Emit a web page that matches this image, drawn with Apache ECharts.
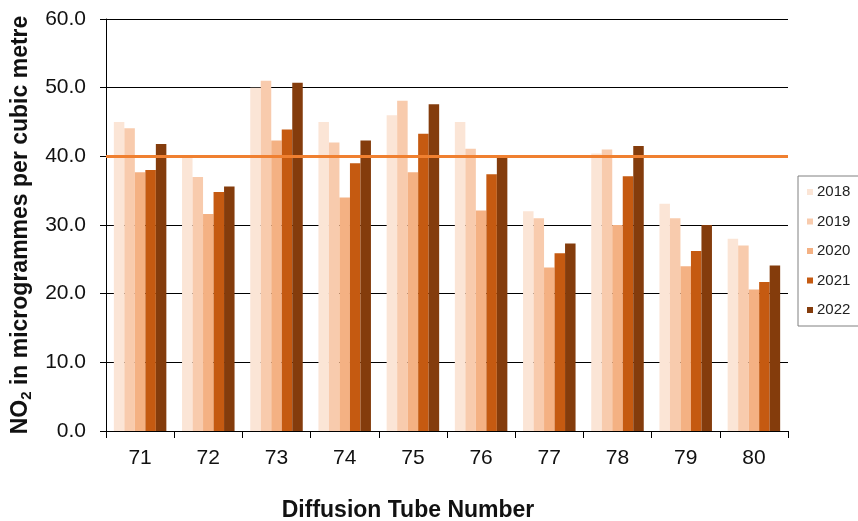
<!DOCTYPE html>
<html>
<head>
<meta charset="utf-8">
<script src="https://cdn.jsdelivr.net/npm/echarts@6/dist/echarts.min.js"></script>
<style>
  html, body { margin: 0; padding: 0; background: #fff; }
  #chart { width: 858px; height: 521px; }
</style>
</head>
<body>
<div id="chart"></div>
<script>
// Diffusion tube sites
const tubes = ['71', '72', '73', '74', '75', '76', '77', '78', '79', '80'];

// Annual mean NO2 (µg/m³) per tube, one array per year
const years = ['2018', '2019', '2020', '2021', '2022'];
const no2_2018 = [45.0, 40.0, 50.0, 45.0, 46.0, 45.0, 32.0, 40.4, 33.1, 28.0];
const no2_2019 = [44.1, 37.0, 51.0, 42.0, 48.1, 41.1, 31.0, 41.0, 31.0, 27.0];
const no2_2020 = [37.7, 31.6, 42.3, 34.0, 37.7, 32.1, 23.8, 30.0, 24.0, 20.6];
const no2_2021 = [38.0, 34.8, 43.9, 39.0, 43.3, 37.4, 25.9, 37.1, 26.2, 21.7];
const no2_2022 = [41.8, 35.6, 50.7, 42.3, 47.6, 40.0, 27.3, 41.5, 30.0, 24.1];

// Annual mean objective
const objective = 40;

const yearColours = ['#FBE5D6', '#F8CBAD', '#F4B183', '#C55A11', '#843C0C'];
const values = [no2_2018, no2_2019, no2_2020, no2_2021, no2_2022];

const font = '"Liberation Sans", Arial, sans-serif';

const series = years.map((y, i) => ({
  name: y,
  type: 'bar',
  data: values[i],
  barGap: '0%',
  barCategoryGap: '23%',
  itemStyle: { color: yearColours[i] },
  z: 2
}));

// Objective line drawn across the plot above the bars
series[0].markLine = {
  silent: true,
  symbol: 'none',
  label: { show: false },
  lineStyle: { color: '#F08030', width: 3, type: 'solid' },
  data: [{ yAxis: objective }],
  z: 5
};

const chart = echarts.init(document.getElementById('chart'), null, { renderer: 'canvas' });
chart.setOption({
  animation: false,
  backgroundColor: '#fff',
  grid: { left: 106, right: 70, top: 19, bottom: 90, containLabel: false, outerBoundsMode: 'none' },
  legend: {
    orient: 'vertical',
    left: 798,
    top: 176,
    padding: [8, 20, 8, 9],
    borderColor: '#808080',
    borderWidth: 1,
    itemWidth: 6,
    itemHeight: 6,
    itemGap: 13.5,
    itemStyle: { borderWidth: 0 },
    icon: 'rect',
    textStyle: { fontFamily: font, fontSize: 15, color: '#222', lineHeight: 16, padding: [0, 0, 0, -1] },
    data: years
  },
  xAxis: {
    type: 'category',
    data: tubes,
    name: 'Diffusion Tube Number',
    nameLocation: 'middle',
    nameGap: 68,
    nameTextStyle: {
      fontFamily: font, fontSize: 23, fontWeight: 'bold', color: '#111',
      padding: [0, 78, 0, 0]
    },
    axisLine: { lineStyle: { color: '#000', width: 1 } },
    axisTick: { show: true, length: 7, alignWithLabel: false, lineStyle: { color: '#000' } },
    axisLabel: { fontFamily: font, fontSize: 21, color: '#111', margin: 17 }
  },
  yAxis: {
    type: 'value',
    min: 0,
    max: 60,
    interval: 10,
    name: '{a|NO}{s|2}{a| in microgrammes per cubic metre}',
    nameLocation: 'middle',
    nameRotate: 90,
    nameGap: 72,
    nameTextStyle: {
      fontFamily: font, fontSize: 23, fontWeight: 'bold', color: '#111',
      rich: {
        a: { fontFamily: font, fontSize: 23, fontWeight: 'bold', color: '#111', lineHeight: 26 },
        s: { fontFamily: font, fontSize: 15, fontWeight: 'bold', color: '#111', lineHeight: 26, verticalAlign: 'bottom', padding: [8, 0, 0, 0] }
      }
    },
    axisLine: { show: true, lineStyle: { color: '#000', width: 1 } },
    axisTick: { show: true, length: 6, lineStyle: { color: '#000' } },
    axisLabel: {
      fontFamily: font, fontSize: 21, color: '#111', margin: 20,
      formatter: v => v.toFixed(1)
    },
    splitLine: { show: true, lineStyle: { color: '#000', width: 1 } }
  },
  series: series
});
</script>
</body>
</html>
